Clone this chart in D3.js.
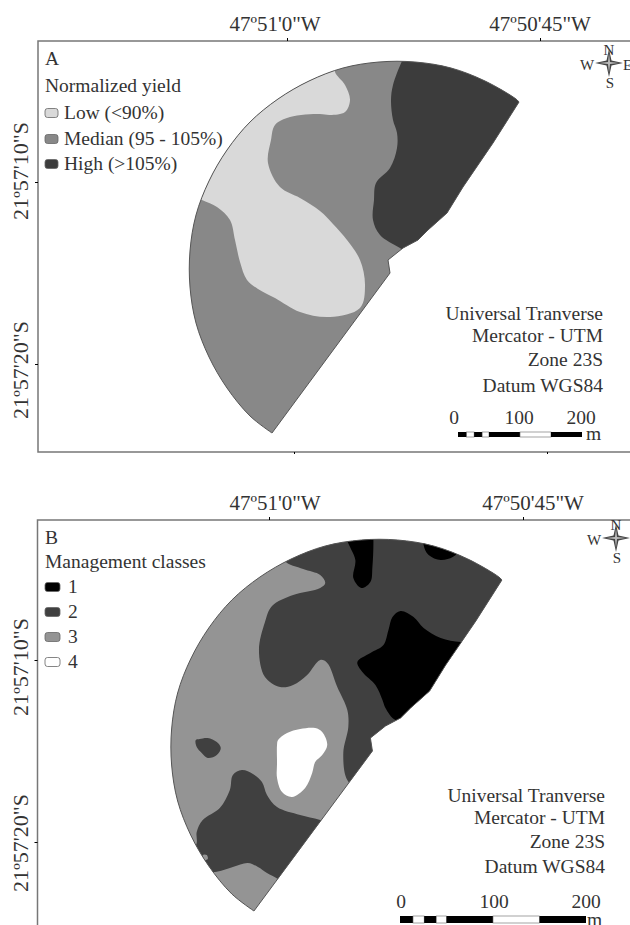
<!DOCTYPE html>
<html>
<head>
<meta charset="utf-8">
<script src="https://cdnjs.cloudflare.com/ajax/libs/d3/7.8.5/d3.min.js"></script>
<style>
body { margin: 0; background: #fff; }
text { font-family: "Liberation Serif", serif; fill: #333; }
</style>
</head>
<body>
<div id="chart"></div>
<script>
// all outlines are digitised offsets [east, south] from the crossing of the
// 47º51'0"W and 21º57'10"S graticule lines
var lonTicks = [0, 253];
var lonLabels = ["47º51'0\"W", "47º50'45\"W"];
var latTicks = [0, 182];
var latLabels = ["21º57'10\"S", "21º57'20\"S"];

var fieldArc = [[-15,251],[-37,234],[-60,206],[-78,175],[-91,141],[-97,105],[-97,69],[-91,33],[-78,-1],[-60,-32],
    [-37,-60],[-9,-83],[22,-101],[56,-114],[92,-120],[128,-120],[164,-114],[198,-101],[229,-83],[232,-80]];
var fieldEdge = [[232,-80],[206,-39],[176,5],[160,31],[141,48],[131,58],[116,66],[101,78],[103,91],[-15,251]];

var yieldLow = [[48,-110],[58,-97],[63,-82],[58,-70],[43,-67],[33,-68],[3,-65],[-12,-57],[-16,-42],[-19,-19],[-7,5],
    [13,16],[33,29],[46,42],[60,58],[73,78],[78,103],[73,126],[43,135],[13,130],[-12,116],[-29,107],[-40,98],[-47,80],
    [-52,58],[-57,38],[-70,25],[-85,18],[-107,8],[-57,-92],[33,-132],[48,-122]];
var yieldHigh = [[115,-121],[106,-97],[104,-82],[106,-62],[110,-49],[110,-34],[103,-14],[89,1],[87,18],[86,38],[93,53],
    [113,66],[133,78],[253,-72],[233,-132],[123,-137]];

var class2Top = [[16,-99],[34,-91],[51,-85],[56,-77],[51,-72],[24,-65],[3,-54],[-4,-38],[-10,-10],[-4,17],[11,27],[24,25],
    [38,15],[51,0],[58,3],[68,27],[78,50],[79,67],[74,93],[78,120],[91,130],[251,-70],[241,-130],[81,-135],[16,-115]];
var class2Bottom = [[51,160],[31,155],[8,147],[-2,135],[-7,122],[-16,114],[-27,110],[-36,115],[-39,130],[-49,148],[-66,160],
    [-72,172],[-72,183],[-77,195],[-64,210],[-54,212],[-36,207],[-21,203],[-11,207],[-2,213],[9,219],[31,235],[81,170]];
var class2Blob = [[-73,80],[-69,79],[-61,78],[-52,82],[-48,88],[-52,95],[-61,98],[-67,93],[-72,87]];
var class3Speck = [[-66,195],[-62,195],[-61,199],[-65,200]];
var class4Patch = [[8,85],[9,80],[18,73],[31,69],[46,68],[53,72],[58,85],[53,95],[46,102],[43,113],[36,128],[23,137],
    [13,132],[8,118],[8,103]];
var class1Spike = [[78,-120],[86,-100],[84,-82],[92,-72],[101,-78],[103,-93],[104,-120],[103,-135],[78,-135]];
var class1Small = [[154,-115],[159,-105],[171,-100],[183,-103],[188,-108],[186,-125],[156,-130]];
var class1Big = [[191,-18],[171,-22],[154,-32],[144,-43],[131,-49],[123,-43],[119,-30],[114,-15],[101,-7],[88,2],[93,12],
    [106,25],[113,40],[116,48],[126,60],[151,60],[211,-20]];

var yieldNames = ["Low (<90%)", "Median (95 - 105%)", "High (>105%)"];
var classNames = ["1", "2", "3", "4"];
var noteLines = ["Universal Tranverse", "Mercator - UTM", "Zone 23S", "Datum WGS84"];
var scaleBreaks = [0, 14, 26, 39, 50, 100, 150, 200];
var scaleTicks = [0, 100, 200];

var svg = d3.select("#chart").append("svg")
    .attr("width", 630)
    .attr("height", 925)
    .style("display", "block");

function addText(x, y, str, size, anchor) {
    return svg.append("text")
        .attr("x", x).attr("y", y)
        .attr("font-size", size)
        .attr("text-anchor", anchor || "start")
        .text(str);
}

function drawPanel(p) {
    var x = d3.scaleLinear().domain([0, 253]).range(p.xRange);
    var y = d3.scaleLinear().domain([0, 182]).range(p.yRange);

    var blob = d3.line().x(function(d) { return x(d[0]); }).y(function(d) { return y(d[1]); })
        .curve(d3.curveCatmullRomClosed.alpha(0.5));
    var arc = d3.line().x(function(d) { return x(d[0]); }).y(function(d) { return y(d[1]); })
        .curve(d3.curveCatmullRom.alpha(0.5));
    var edge = d3.line().x(function(d) { return x(d[0]); }).y(function(d) { return y(d[1]); });
    var fieldPath = arc(fieldArc) + edge(fieldEdge).replace("M", "L") + "Z";

    svg.append("clipPath").attr("id", p.id).append("path").attr("d", fieldPath);

    svg.append("path").attr("d", fieldPath).attr("fill", p.base);
    var g = svg.append("g").attr("clip-path", "url(#" + p.id + ")");
    p.regions.forEach(function(r) {
        g.append("path").attr("d", blob(r.pts)).attr("fill", r.fill);
    });
    svg.append("path").attr("d", fieldPath).attr("fill", "none").attr("stroke", "#555").attr("stroke-width", 1);

    // frame
    var frame = "M630," + p.top + "H" + p.left + "V" + p.bottom;
    if (p.bottom < 925) frame += "H630";
    svg.append("path").attr("d", frame).attr("fill", "none").attr("stroke", "#777").attr("stroke-width", 1.5);

    // graticule ticks and labels
    var topAxis = d3.axisTop(x).tickValues(lonTicks).tickSize(3).tickFormat("");
    svg.append("g").attr("transform", "translate(0," + p.top + ")").call(topAxis)
        .call(function(s) { s.select(".domain").remove(); });
    var leftAxis = d3.axisLeft(y).tickValues(latTicks).tickSize(3).tickFormat("");
    svg.append("g").attr("transform", "translate(" + p.left + ",0)").call(leftAxis)
        .call(function(s) { s.select(".domain").remove(); });
    if (p.bottom < 925) {
        var bottomAxis = d3.axisBottom(x).tickValues(lonTicks).tickSize(2).tickFormat("");
        svg.append("g").attr("transform", "translate(7," + p.bottom + ")").call(bottomAxis)
            .call(function(s) { s.select(".domain").remove(); });
    }
    lonTicks.forEach(function(t, i) {
        addText(x(t) + p.lonShift[i], p.top - 10, lonLabels[i], 21, "middle");
    });
    latTicks.forEach(function(t, i) {
        var cy = y(t) + p.latShift[i];
        addText(0, 0, latLabels[i], 22, "middle")
            .attr("transform", "translate(28," + cy + ") rotate(-90)");
    });

    // legend
    addText(45, p.top + 24, p.letter, 19.5);
    addText(45, p.top + p.titleDy, p.title, 19.5);
    p.legend.forEach(function(name, i) {
        var cy = p.swatchY[i];
        svg.append("rect")
            .attr("x", 45).attr("y", cy - 4.5)
            .attr("width", p.swatchW).attr("height", 9).attr("rx", 2.5)
            .attr("fill", p.legendFill[i]).attr("stroke", "#666").attr("stroke-width", 0.8);
        addText(p.legendX, cy + 5.5, name, 19.5);
    });

    // projection note
    noteLines.forEach(function(line, i) {
        addText(p.noteX, p.noteY[i], line, 19.5, "end");
    });

    // scale bar
    var bar = d3.scaleLinear().domain([0, 200]).range(p.barRange);
    d3.pairs(scaleBreaks).forEach(function(seg, i) {
        svg.append("rect")
            .attr("x", bar(seg[0])).attr("y", p.barY)
            .attr("width", bar(seg[1]) - bar(seg[0])).attr("height", p.barH)
            .attr("fill", i % 2 ? "#fff" : "#000")
            .attr("stroke", i % 2 ? "#666" : "none").attr("stroke-width", 0.6);
    });
    scaleTicks.forEach(function(t, i) {
        addText(bar(t) + p.barShift[i], p.barY - 8, t, 19.5, "middle");
    });
    addText(p.barRange[1] + p.mDx, p.barY + p.barH + 3, "m", 19.5);

    // north arrow
    var c = p.compass;
    var star = svg.append("g").attr("transform", "translate(" + c[0] + "," + c[1] + ")");
    star.append("path").attr("d", "M0,-14L2.5,-2.5L14,0L2.5,2.5L0,14L-2.5,2.5L-14,0L-2.5,-2.5Z").attr("fill", "#444");
    star.append("path").attr("d", "M0,-10L1,-1L10,0L1,1L0,10L-1,1L-10,0L-1,-1Z").attr("fill", "#bbb");
    addText(c[0], c[1] - 8, "N", 15, "middle");
    addText(c[0] + 1, c[1] + 25, "S", 15, "middle");
    addText(c[0] - 22, c[1] + 7, "W", 15, "middle");
    addText(c[0] + 14, c[1] + 7, "E", 15, "start");
}

drawPanel({
    id: "clipA", letter: "A", title: "Normalized yield",
    xRange: [287, 540], yRange: [182, 364],
    top: 41, left: 38, bottom: 452,
    lonShift: [-12, 0], latShift: [-11, 6],
    base: "#888888",
    regions: [{pts: yieldLow, fill: "#d9d9d9"}, {pts: yieldHigh, fill: "#3c3c3c"}],
    titleDy: 51, legend: yieldNames,
    legendFill: ["#d9d9d9", "#888888", "#3c3c3c"],
    swatchY: [113, 139, 164], swatchW: 13, legendX: 64,
    noteX: 603, noteY: [320, 342, 366, 392],
    barRange: [458, 582], barY: 432, barH: 5, barShift: [-4, -1, -1], mDx: 4,
    compass: [609, 63]
});

drawPanel({
    id: "clipB", letter: "B", title: "Management classes",
    xRange: [269, 523], yRange: [660, 842],
    top: 520, left: 37.5, bottom: 925,
    lonShift: [6, 10], latShift: [7, 1],
    base: "#949494",
    regions: [
        {pts: class2Top, fill: "#404040"}, {pts: class2Bottom, fill: "#404040"}, {pts: class2Blob, fill: "#404040"},
        {pts: class3Speck, fill: "#949494"}, {pts: class4Patch, fill: "#ffffff"},
        {pts: class1Spike, fill: "#000000"}, {pts: class1Small, fill: "#000000"}, {pts: class1Big, fill: "#000000"}
    ],
    titleDy: 48, legend: classNames,
    legendFill: ["#000000", "#404040", "#949494", "#ffffff"],
    swatchY: [587, 612, 637, 662], swatchW: 15, legendX: 68,
    noteX: 605, noteY: [802, 824, 848, 873],
    barRange: [400, 586], barY: 916, barH: 7, barShift: [1, 1, 0], mDx: 1,
    compass: [616, 538]
});
</script>
</body>
</html>
